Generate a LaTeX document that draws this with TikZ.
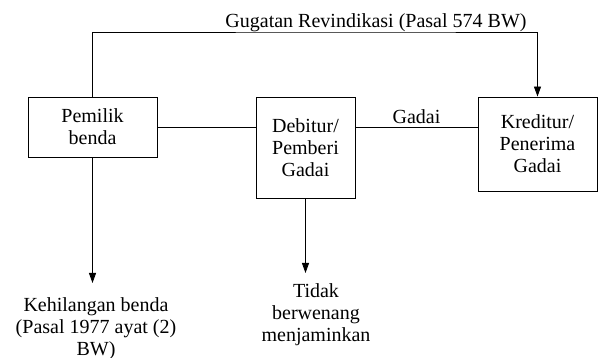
\documentclass[tikz,border=0pt]{standalone}
\usepackage{fontspec}
\setmainfont{Liberation Serif}
\usetikzlibrary{arrows.meta}

\tikzset{
    kotak/.style={draw, align=center, inner sep=0pt,
      font=\fontsize{20}{22}\selectfont},
    teks/.style={align=center, inner xsep=0pt,
      font=\fontsize{20}{22}\selectfont},
    panah/.style={-{Triangle[length=10pt,width=7pt]}}
  }

\begin{document}
\begin{tikzpicture}[x=1pt, y=-1pt, line width=0.9pt]
    \useasboundingbox (0,0) rectangle (598,358);

    \node[kotak, minimum width=129pt, minimum height=60pt] (pemilik) at (92.5,127) {Pemilik\\benda};
    \node[kotak, minimum width=99pt, minimum height=101pt] (debitur) at (305.5,147.5) {Debitur/\\Pemberi\\Gadai};
    \node[kotak, minimum width=119pt, minimum height=94pt] (kreditur) at (537.5,144) {Kreditur/\\Penerima\\Gadai};

    \node[teks, anchor=south, inner ysep=0pt] (gugatan) at (376,32) {Gugatan Revindikasi (Pasal 574 BW)};
    \node[teks, anchor=north, inner ysep=14pt] (hilang) at (96,283) {Kehilangan benda\\(Pasal 1977 ayat (2)\\BW)};
    \node[teks, anchor=north, inner ysep=10pt] (tidak) at (316,273) {Tidak\\berwenang\\menjaminkan};

    % garis antar pihak
    \draw (pemilik.east) -- (pemilik.east -| debitur.west);
    \draw (debitur.east |- pemilik.east) -- node[teks, above, inner ysep=3pt] (gadai) {Gadai} (kreditur.west |- pemilik.east);

    \draw[panah] (pemilik.north) |- (gugatan.south) -| (kreditur.north);
    \draw[panah] (pemilik.south) -- (pemilik.south |- hilang.north);
    \draw[panah] (debitur.south) -- (debitur.south |- tidak.north);
\end{tikzpicture}
\end{document}
